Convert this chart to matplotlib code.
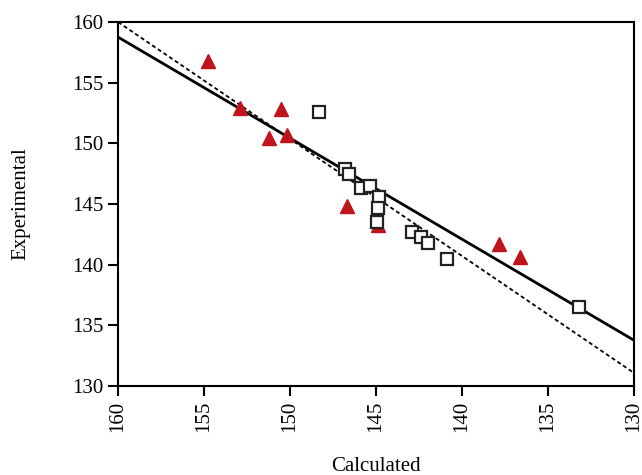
import numpy as np
import matplotlib
matplotlib.use("Agg")
from matplotlib import pyplot as plt

plt.rcParams['font.family'] = ['Liberation Serif', 'DejaVu Serif']

# red triangles
tri_calc = [154.8, 152.9, 150.5, 151.2, 150.2, 146.7, 144.9, 137.85, 136.6]
tri_exp = [156.8, 152.9, 152.85, 150.4, 150.7, 144.8, 143.3, 141.7, 140.6]
# open squares
sq_calc = [148.3, 146.8, 146.55, 145.85, 145.35, 144.83, 144.88, 144.94,
           142.9, 142.4, 142.0, 140.85, 133.2]
sq_exp = [152.6, 147.9, 147.5, 146.35, 146.5, 145.6, 144.7, 143.5,
          142.7, 142.25, 141.75, 140.5, 136.5]
# lines: y = a*x + b
fit_solid = (0.832, 25.62)
fit_dashed = (0.963, 5.9)

fig = plt.figure(figsize=(6.42, 4.75), dpi=100)
ax = fig.add_axes([0.184, 0.187, 0.8035, 0.767])

xs = np.array([160, 130])
ax.plot(xs, fit_dashed[0]*xs + fit_dashed[1], color='black', lw=1.3, ls=(0, (2.2, 1.6)), zorder=2)
ax.plot(xs, fit_solid[0]*xs + fit_solid[1], color='black', lw=2, zorder=2)
ax.plot(tri_calc, tri_exp, ls='none', marker='^', ms=10, color='#c0141c', mec='#c0141c', zorder=3)
ax.plot(sq_calc, sq_exp, ls='none', marker='s', ms=8.5, mfc='white', mec='#222222', mew=1.6, zorder=4)

ax.set_xlim(160, 130)
ax.set_ylim(130, 160)
ax.set_xticks(np.arange(160, 129, -5))
ax.set_yticks(np.arange(130, 161, 5))
ax.tick_params(axis='both', direction='out', length=7, width=1.5, labelsize=15)
ax.tick_params(axis='x', labelrotation=90)
for s in ax.spines.values():
    s.set_linewidth(1.5)
ax.set_xlabel('Calculated', fontsize=15, labelpad=18)
ax.set_ylabel('Experimental', fontsize=15, labelpad=30)

fig.savefig('out.png', dpi=100)
